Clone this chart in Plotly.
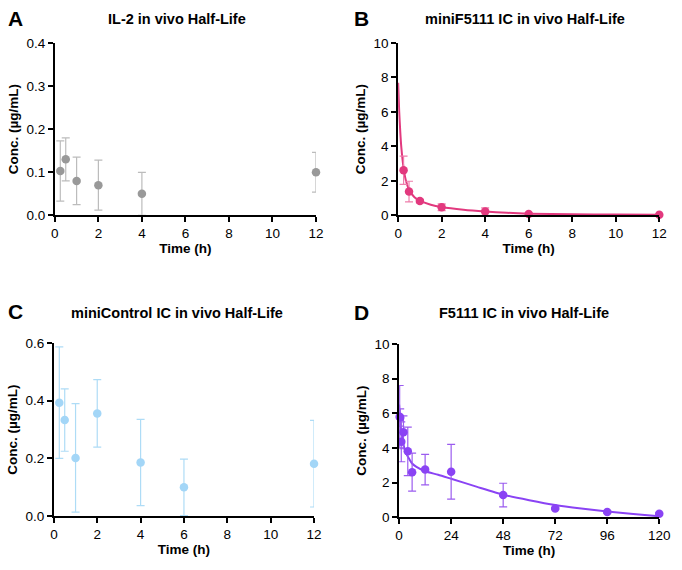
import plotly.graph_objects as go

# ---------------- data ----------------
# Panel A: IL-2
a_time = [0.25, 0.5, 1, 2, 4, 12]
a_conc = [0.103, 0.130, 0.080, 0.070, 0.050, 0.100]
a_err = [0.070, 0.050, 0.055, 0.058, 0.050, 0.046]

# Panel B: miniF5111 IC
b_time = [0.25, 0.5, 1, 2, 4, 6, 12]
b_conc = [2.62, 1.38, 0.83, 0.47, 0.22, 0.08, 0.04]
b_err = [0.82, 0.60, 0.10, 0.20, 0.22, 0.05, 0.02]
b_fit_t = [0, 0.05, 0.1, 0.15, 0.25, 0.35, 0.5, 0.75, 1, 1.5, 2, 3, 4, 5, 6, 8, 10, 12]
b_fit_c = [7.7, 6.0, 4.8, 3.9, 2.75, 2.05, 1.5, 1.05, 0.85, 0.62, 0.48, 0.32, 0.22, 0.15, 0.10, 0.06, 0.045, 0.04]

# Panel C: miniControl IC
c_time = [0.25, 0.5, 1, 2, 4, 6, 12]
c_conc = [0.393, 0.333, 0.202, 0.356, 0.186, 0.100, 0.182]
c_err = [0.193, 0.108, 0.188, 0.117, 0.149, 0.098, 0.150]

# Panel D: F5111 IC
d_time = [0.25, 0.5, 1, 2, 4, 6, 12, 24, 48, 72, 96, 120]
d_conc = [5.80, 5.75, 4.35, 4.90, 3.80, 2.60, 2.75, 2.62, 1.28, 0.50, 0.30, 0.20]
d_err = [1.80, 0.50, 1.15, 0.95, 1.40, 1.10, 0.88, 1.58, 0.68, 0.05, 0.05, 0.05]
d_fit_t = [0, 0.5, 1, 2, 3, 4, 6, 8, 12, 18, 24, 36, 48, 60, 72, 84, 96, 108, 120]
d_fit_c = [6.5, 5.6, 5.0, 4.2, 3.75, 3.5, 3.1, 2.9, 2.65, 2.45, 2.22, 1.75, 1.3, 0.98, 0.70, 0.50, 0.33, 0.18, 0.05]

titles = ["IL-2 in vivo Half-Life", "miniF5111 IC in vivo Half-Life",
          "miniControl IC in vivo Half-Life", "F5111 IC in vivo Half-Life"]
letters = ["A", "B", "C", "D"]

# ---------------- layout helpers ----------------
W, H = 682, 570
FONT = "Arial, Liberation Sans, Helvetica, sans-serif"

def fx(px):
    return px / W

def fy(py):
    return 1 - py / H

panels = {
    # name: (x0, x1, ytop, ybottom) in pixels
    1: (52, 319, 37, 214),
    2: (403, 670, 37, 214),
    3: (51, 317, 345, 523),
    4: (404, 670, 346, 524),
}

fig = go.Figure()

def add_points(idx, t, c, e, marker_color, err_color):
    fig.add_trace(go.Scatter(
        x=t, y=c, mode="markers",
        marker=dict(color=marker_color, size=8.5),
        error_y=dict(type="data", array=e, color=err_color, thickness=1.2, width=4),
        xaxis=f"x{idx}" if idx > 1 else "x",
        yaxis=f"y{idx}" if idx > 1 else "y",
        cliponaxis=False, showlegend=False,
    ))

def add_fit(idx, t, c, color):
    fig.add_trace(go.Scatter(
        x=t, y=c, mode="lines", line=dict(color=color, width=2, shape="spline", smoothing=0.6),
        xaxis=f"x{idx}" if idx > 1 else "x",
        yaxis=f"y{idx}" if idx > 1 else "y",
        cliponaxis=False, showlegend=False, hoverinfo="skip",
    ))

add_points(1, a_time, a_conc, a_err, "#999999", "#bcbcbc")
add_fit(2, b_fit_t, b_fit_c, "#e2397e")
add_points(2, b_time, b_conc, b_err, "#e2397e", "#ee7eab")
add_points(3, c_time, c_conc, c_err, "#a3d6f7", "#aedcf6")
add_fit(4, d_fit_t, d_fit_c, "#8a43f4")
add_points(4, d_time, d_conc, d_err, "#8a43f4", "#9b5cef")

axis_common = dict(
    showline=True, linecolor="black", linewidth=1.8,
    ticks="outside", tickcolor="black", tickwidth=1.8, ticklen=5,
    showgrid=False, zeroline=False,
    tickfont=dict(family=FONT, size=13.5, color="black"),
    title_font=dict(family=FONT, size=13.5, color="black"),
)

xranges = {1: [0, 12], 2: [0, 12], 3: [0, 12], 4: [0, 120]}
xticks = {1: [0, 2, 4, 6, 8, 10, 12], 2: [0, 2, 4, 6, 8, 10, 12],
          3: [0, 2, 4, 6, 8, 10, 12], 4: [0, 24, 48, 72, 96, 120]}
yranges = {1: [0, 0.4], 2: [0, 10], 3: [0, 0.6], 4: [0, 10]}
yticks = {1: [0, 0.1, 0.2, 0.3, 0.4], 2: [0, 2, 4, 6, 8, 10],
          3: [0, 0.2, 0.4, 0.6], 4: [0, 2, 4, 6, 8, 10]}
ytext = {1: ["0.0", "0.1", "0.2", "0.3", "0.4"], 2: ["0", "2", "4", "6", "8", "10"],
         3: ["0.0", "0.2", "0.4", "0.6"], 4: ["0", "2", "4", "6", "8", "10"]}

layout = {}
for i, (x0, x1, yt, yb) in panels.items():
    xa = "xaxis" if i == 1 else f"xaxis{i}"
    ya = "yaxis" if i == 1 else f"yaxis{i}"
    layout[xa] = dict(axis_common, domain=[fx(x0), fx(x1)], range=xranges[i],
                      tickvals=xticks[i], anchor="y" if i == 1 else f"y{i}",
                      title=dict(text="<b>Time (h)</b>", standoff=3))
    layout[ya] = dict(axis_common, domain=[fy(yb), fy(yt)], range=yranges[i],
                      tickvals=yticks[i], ticktext=ytext[i],
                      anchor="x" if i == 1 else f"x{i}",
                      title=dict(text="<b>Conc. (µg/mL)</b>", standoff=5))

fig.update_layout(**layout)

annotations = []
title_pos = [(177, 12), (533, 12), (177, 314), (532, 314)]
letter_pos = [(2, 12), (356, 12), (2, 313), (356, 314)]
for k in range(4):
    tx, ty = title_pos[k]
    annotations.append(dict(text=f"<b>{titles[k]}</b>", x=fx(tx), y=fy(ty),
                            xref="paper", yref="paper", xanchor="center", yanchor="middle",
                            showarrow=False, font=dict(family=FONT, size=14.5, color="black")))
    lx, ly = letter_pos[k]
    annotations.append(dict(text=f"<b>{letters[k]}</b>", x=fx(lx), y=fy(ly),
                            xref="paper", yref="paper", xanchor="left", yanchor="middle",
                            showarrow=False, font=dict(family=FONT, size=21, color="black")))

fig.update_layout(
    width=W, height=H, margin=dict(l=0, r=0, t=0, b=0),
    paper_bgcolor="white", plot_bgcolor="white",
    annotations=annotations, showlegend=False,
)

fig.write_html("out.html")
